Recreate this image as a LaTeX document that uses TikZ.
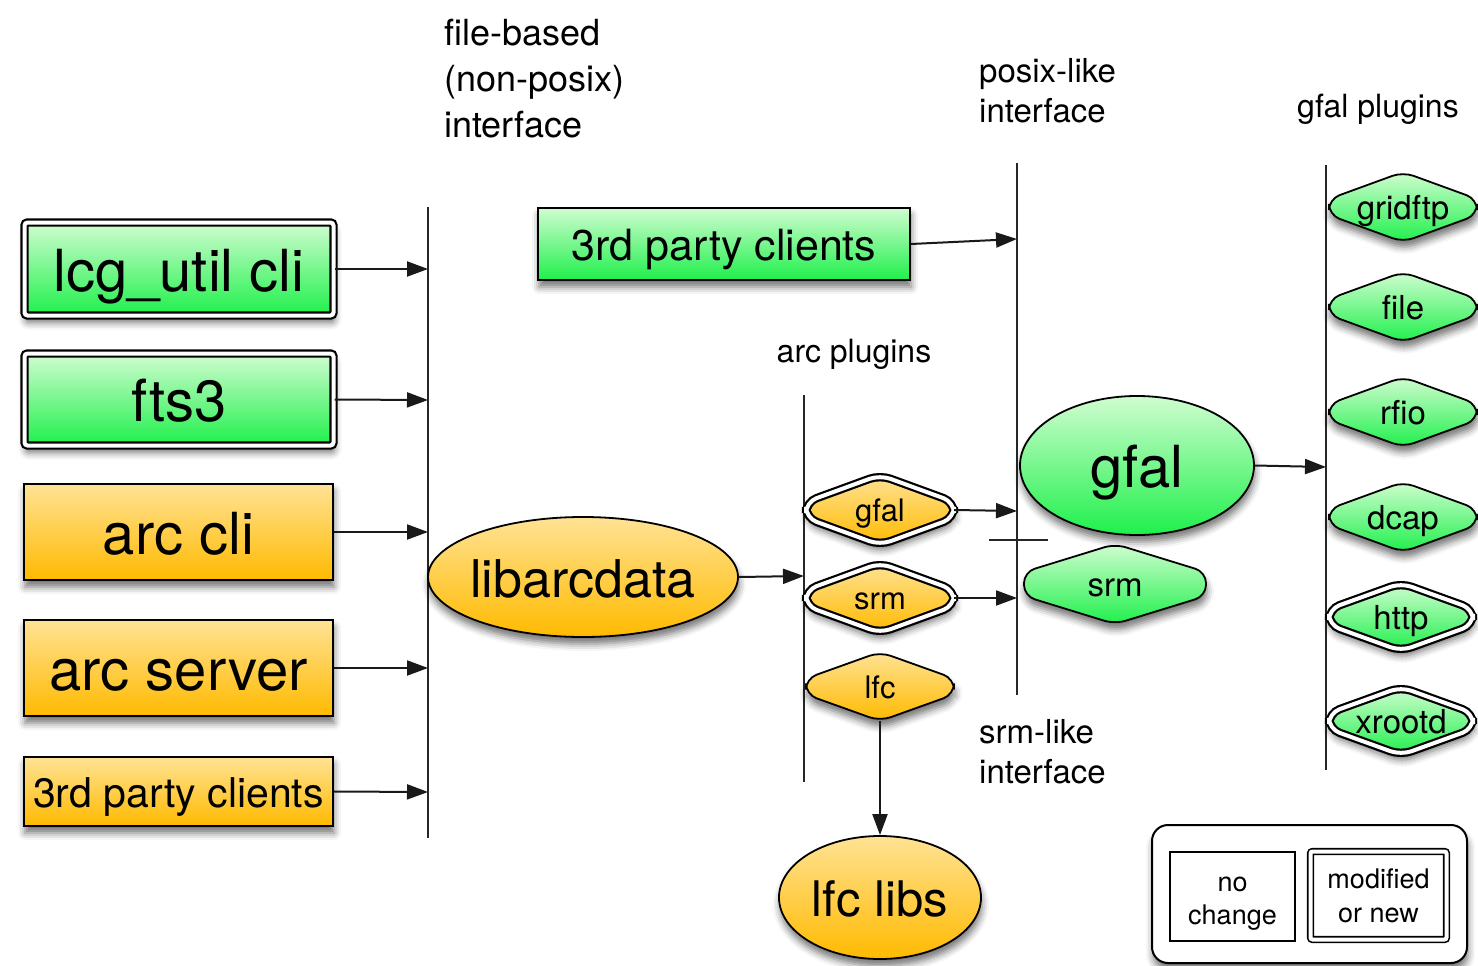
\documentclass[tikz,border=0pt]{standalone}
\usepackage{fontspec}
\setmainfont{TeX Gyre Heros}
\usetikzlibrary{arrows.meta,shadows.blur,shapes.geometric}
\definecolor{gtop}{RGB}{208,253,208}
\definecolor{gbot}{RGB}{30,240,75}
\definecolor{otop}{RGB}{255,226,148}
\definecolor{obot}{RGB}{255,186,0}
\newcommand\fz[2]{\fontsize{#1}{#2}\selectfont}
\tikzset{
  sh/.style={blur shadow={shadow xshift=1pt, shadow yshift=-7pt, shadow blur radius=7pt, shadow opacity=55}},
  grn/.style={top color=gtop, bottom color=gbot},
  org/.style={top color=otop, bottom color=obot},
  bord/.style={draw=black, line width=1.8pt},
  dbl/.style={draw=black, line width=2.2pt, double=white, double distance=4pt},
  arr/.style={draw=black!90, line width=2pt, -{Triangle[length=21pt,width=15pt]}},
  vline/.style={draw=black!85, line width=2pt},
  box/.style={rectangle, inner sep=0pt, sh},
  ell/.style={ellipse, inner sep=0pt, sh, bord},
  hexpath/.style={rounded corners=11pt, sh},
  lbl/.style={inner sep=0pt, align=left, anchor=west},
  th/.style={text height=#1, text depth=0pt},
}
% name, cx, cy, w, h, a, style, font size, text
\newcommand\hexa[9]{%
  \path[hexpath,#7] ({#2},{#3-#5}) -- ({#2+#4},{#3-#6}) -- ({#2+#4},{#3+#6}) -- ({#2},{#3+#5}) -- ({#2-#4},{#3+#6}) -- ({#2-#4},{#3-#6}) -- cycle;
  \node[inner sep=0pt, minimum width={2*#4}, minimum height={2*#5}, font=\fz{#8}{#8}, th={0.76*#8}] (#1) at (#2,#3) {#9};
}
\begin{document}
\begin{tikzpicture}[x=1pt,y=-1pt]
\useasboundingbox (0,0) rectangle (1478,966);

% interface lines
\coordinate (v1t) at (428,207); \coordinate (v1b) at (428,838);
\coordinate (v2t) at (804,395); \coordinate (v2b) at (804,782);
\coordinate (v3t) at (1017,163); \coordinate (v3b) at (1017,695);
\coordinate (v4t) at (1326,165); \coordinate (v4b) at (1326,770);
\coordinate (tkl) at (989,540); \coordinate (tkr) at (1048,540);
\draw[vline] (v1t) -- (v1b);
\draw[vline] (v2t) -- (v2b);
\draw[vline] (v3t) -- (v3b);
\draw[vline] (v4t) -- (v4b);
\draw[vline] (tkl) -- (tkr);

% labels
\node[lbl, font=\fz{36}{46}] (lfile) at (444,79) {file-based\\(non-posix)\\interface};
\node[lbl, font=\fz{33}{40}] (lposix) at (979,91) {posix-like\\interface};
\node[lbl, font=\fz{33}{40}] (lsrm) at (979,752) {srm-like\\interface};
\node[lbl, font=\fz{32}{40}] (lgplug) at (1297,109) {gfal plugins};
\node[inner sep=0pt, font=\fz{32}{40}] (laplug) at (854,354) {arc plugins};

% left column boxes
\node[box, grn, dbl, rounded corners=3pt, minimum width=309, minimum height=93, font=\fz{58}{64}, th=44pt] (lcg) at (179,269) {lcg\_util cli};
\node[box, grn, dbl, rounded corners=3pt, minimum width=309, minimum height=92, font=\fz{58}{64}, th=44pt] (fts) at (179,399.5) {fts3};
\node[box, org, bord, minimum width=309, minimum height=96, font=\fz{58}{64}, th=44pt] (arccli) at (178.5,532) {arc cli};
\node[box, org, bord, minimum width=309, minimum height=96, font=\fz{58}{64}, th=44pt] (arcsrv) at (178.5,668) {arc server};
\node[box, org, bord, minimum width=309, minimum height=69, font=\fz{41}{48}, th=31pt] (o3rd) at (178.5,791.5) {3rd party clients};

% top green 3rd party
\node[box, grn, bord, minimum width=372, minimum height=72, font=\fz{43}{50}, th=33pt] (g3rd) at (724,244) {3rd party clients};

% ellipses
\node[ell, org, minimum width=310, minimum height=120, font=\fz{52}{60}, th=40pt] (libarc) at (583,577) {\makebox[0pt]{libarcdata}};
\node[ell, grn, minimum width=234, minimum height=139, font=\fz{58}{64}, th=44pt] (gfal) at (1137,465.5) {\makebox[0pt]{gfal}};
\node[ell, org, minimum width=202, minimum height=123, font=\fz{49}{56}, th=37pt] (lfclibs) at (880,897.5) {\makebox[0pt]{lfc libs}};

% arc plugins
\hexa{agfal}{880}{510}{74}{35}{8}{org,dbl}{31}{gfal}
\hexa{asrm}{880}{598}{74}{35}{8}{org,dbl}{31}{srm}
\hexa{alfc}{880}{686.5}{74}{34.5}{8}{org,bord}{31}{lfc}

% green srm
\hexa{gsrm}{1115}{584}{91}{40}{12}{grn,bord}{33}{srm}

% gfal plugins
\hexa{pgrid}{1403}{207}{74}{35}{8}{grn,bord}{33}{gridftp}
\hexa{pfile}{1403}{307}{74}{35}{8}{grn,bord}{33}{file}
\hexa{prfio}{1403}{412}{74}{35}{8}{grn,bord}{33}{rfio}
\hexa{pdcap}{1403}{517}{74}{35}{8}{grn,bord}{33}{dcap}
\hexa{phttp}{1401}{617}{72}{34}{8}{grn,dbl}{33}{http}
\hexa{pxrd}{1401}{721}{72}{34}{8}{grn,dbl}{33}{xrootd}

% connectors
\coordinate (e1) at (428,269);
\coordinate (e2) at (428,400);
\coordinate (e3) at (428,532);
\coordinate (e4) at (428,668);
\coordinate (e5) at (428,792);
\coordinate (e6) at (804,576);
\coordinate (e7) at (1017,239);
\coordinate (e8) at (1017,511);
\coordinate (e9) at (1017,598);
\coordinate (e10) at (1326,467);
\draw[arr] (lcg.east) -- (e1);
\draw[arr] (fts.east) -- (e2);
\draw[arr] (arccli.east) -- (e3);
\draw[arr] (arcsrv.east) -- (e4);
\draw[arr] (o3rd.east) -- (e5);
\draw[arr] (libarc.east) -- (e6);
\draw[arr] (g3rd.east) -- (e7);
\draw[arr] (agfal.east) -- (e8);
\draw[arr] (asrm.east) -- (e9);
\draw[arr] (gfal.east) -- (e10);
\draw[arr] (alfc.south) -- (lfclibs.north);

% legend
\node[rectangle, draw=black, line width=2pt, rounded corners=16pt, fill=white, sh, minimum width=315, minimum height=138] (legend) at (1309.5,894) {};
\node[rectangle, draw=black, line width=1.6pt, fill=white, minimum width=125, minimum height=89] (lnochg) at (1232.5,896.5) {};
\node[inner sep=0pt, align=center, font=\fz{27}{33}] (tnochg) at (1232.5,904) {no\\change};
\node[rectangle, dbl, line width=1.6pt, rounded corners=2pt, fill=white, minimum width=136, minimum height=88, align=center, font=\fz{27}{34}] (lmod) at (1378.5,895.5) {modified\\or new};
\end{tikzpicture}
\end{document}
